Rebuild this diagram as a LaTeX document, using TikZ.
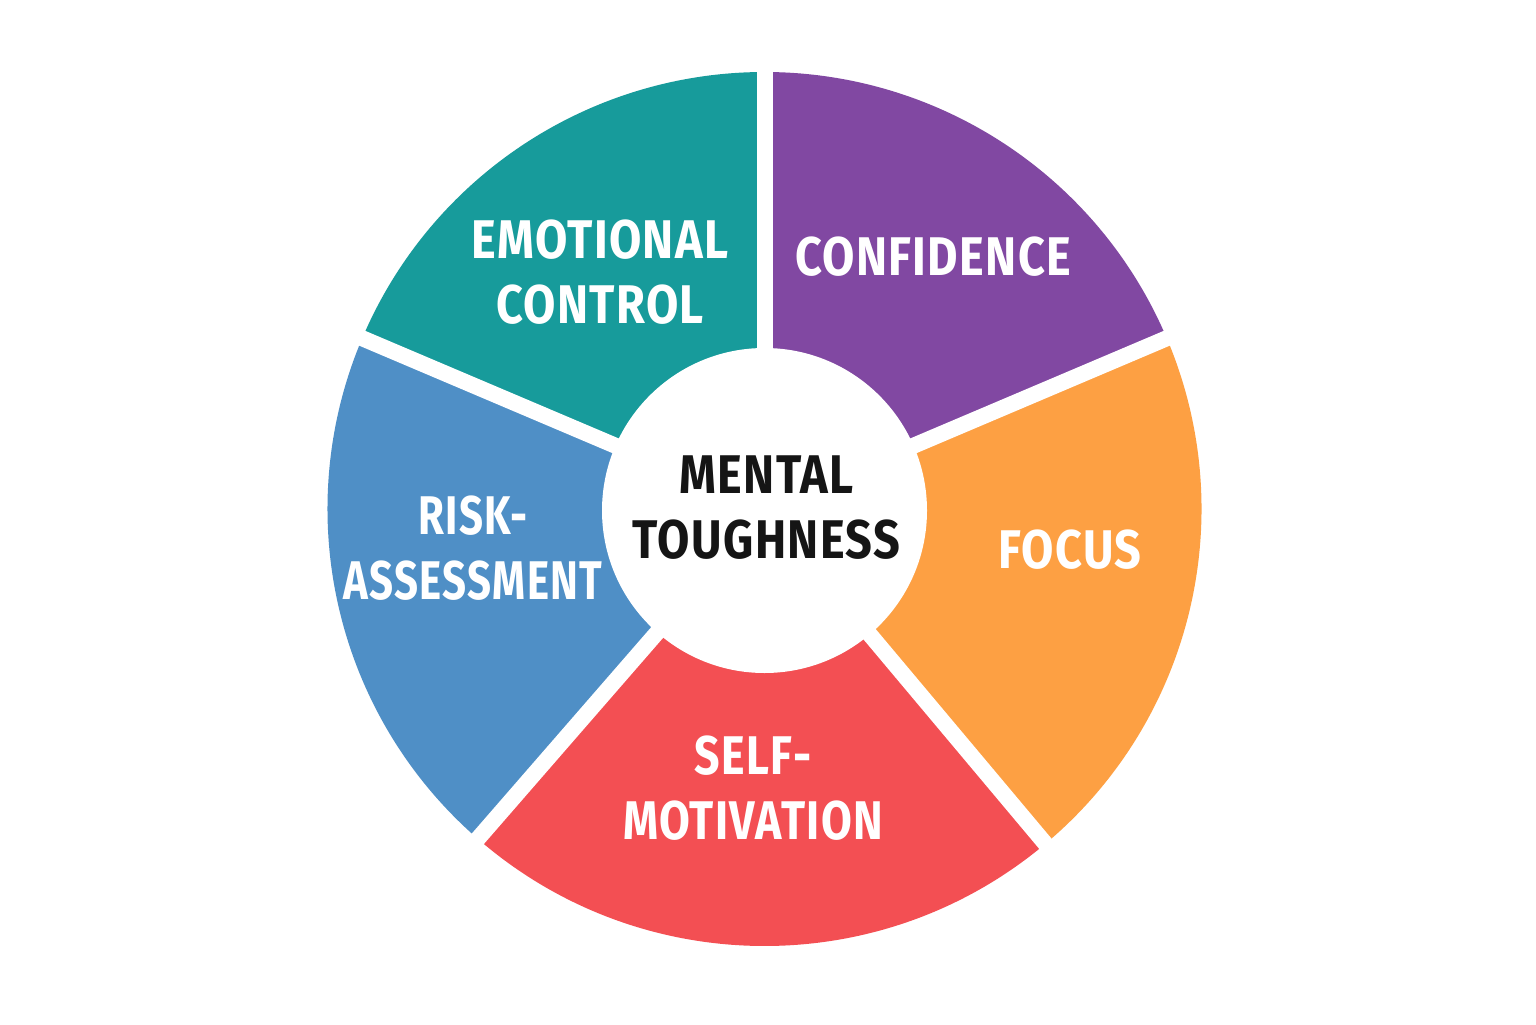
\documentclass[tikz,border=0pt]{standalone}
\usepackage{fontspec}
\setmainfont{Fira Sans}[UprightFont=* Bold, FakeStretch=0.86, LetterSpace=2.5]
\newfontfamily\fmot{Fira Sans}[UprightFont=* Bold, FakeStretch=0.82, LetterSpace=2.5]
\newfontfamily\fass{Fira Sans}[UprightFont=* Bold, FakeStretch=0.77, LetterSpace=2.5]
\definecolor{cteal}{HTML}{179B9B}
\definecolor{cpurple}{HTML}{8148A2}
\definecolor{corange}{HTML}{FDA043}
\definecolor{cred}{HTML}{F34F53}
\definecolor{cblue}{HTML}{4F8FC6}
\definecolor{cdark}{HTML}{151515}
\begin{document}
\begin{tikzpicture}[
  lbl/.style={text=white, font=\fontsize{15.5}{18.5}\selectfont, align=center, inner sep=0pt},
  ctr/.style={text=cdark, font=\fontsize{15.5}{18.5}\selectfont, align=center, inner sep=0pt},
  gapline/.style={white, line width=0.16cm}
]
\useasboundingbox (0,0) rectangle (15.36,10.24);
\fill[white] (0,0) rectangle (15.36,10.24);
\coordinate (O) at (7.645,5.15);
\def\R{4.37}
% sectors
\fill[cteal]   (O) -- ++(90:\R)  arc (90:157:\R)  -- cycle;
\fill[cblue]   (O) -- ++(157:\R) arc (157:229:\R) -- cycle;
\fill[cred]    (O) -- ++(229:\R) arc (229:310:\R) -- cycle;
\fill[corange] (O) -- ++(310:\R) arc (310:383:\R) -- cycle;
\fill[cpurple] (O) -- ++(23:\R)  arc (23:90:\R)   -- cycle;
% gaps
\foreach \a in {90,157,229,310,23}{
  \draw[gapline] (O) -- ++(\a:4.6);
}
% center
\node[circle, fill=white, minimum size=3.25cm, inner sep=0pt] (hub) at (7.645,5.135) {};
\node[ctr] (mt) at (7.665,5.16) {MENTAL\\TOUGHNESS};
\node[lbl] (emo) at (6.0,7.52) {EMOTIONAL\\CONTROL};
\node[lbl] (conf) at (9.33,7.67) {CONFIDENCE};
\node[lbl] (foc) at (10.70,4.74) {FOCUS};
\node[lbl] (risk) at (4.73,4.76) {\fass RISK-\\\fass ASSESSMENT};
\node[lbl] (self) at (7.53,2.36) {\fmot SELF-\\\fmot MOTIVATION};
\end{tikzpicture}
\end{document}
